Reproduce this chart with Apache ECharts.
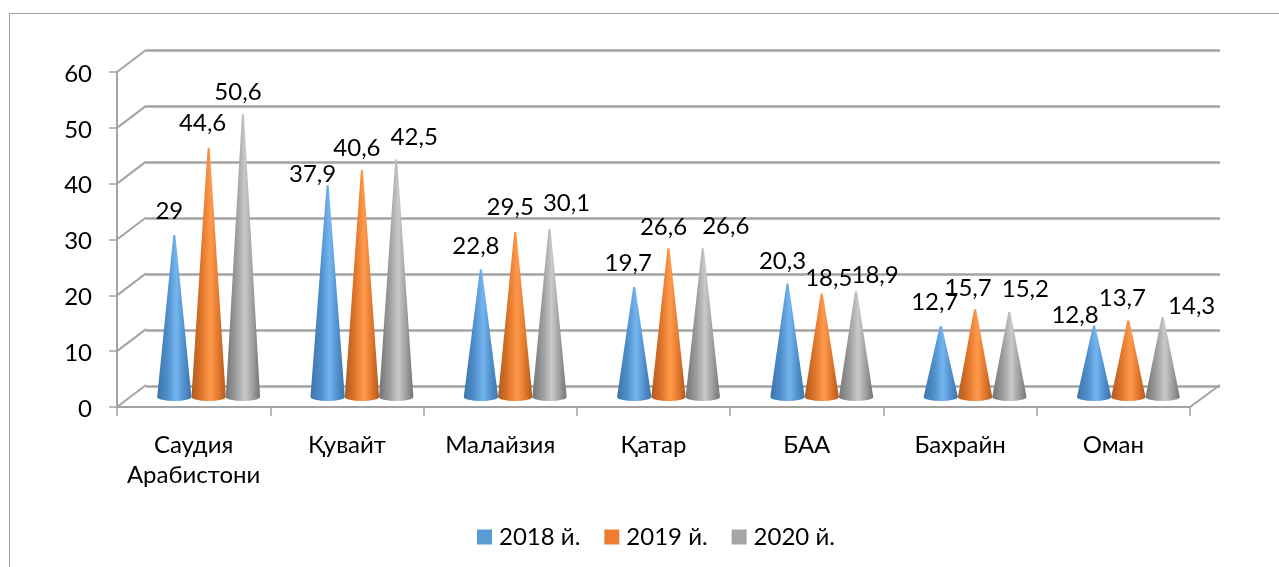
<!DOCTYPE html>
<html>
<head>
<meta charset="utf-8">
<script src="https://cdn.jsdelivr.net/npm/echarts@6/dist/echarts.min.js"></script>
<style>
  html, body { margin: 0; padding: 0; background: #fff; }
  #main { width: 1279px; height: 567px; }
</style>
</head>
<body>
<div id="main"></div>
<script>
// values
var categories = ['Саудия\nАрабистони', 'Қувайт', 'Малайзия', 'Қатар', 'БАА', 'Бахрайн', 'Оман'];
var values2018 = [29, 37.9, 22.8, 19.7, 20.3, 12.7, 12.8];
var values2019 = [44.6, 40.6, 29.5, 26.6, 18.5, 15.7, 13.7];
var values2020 = [50.6, 42.5, 30.1, 26.6, 18.9, 15.2, 14.3];
var yTicks = [0, 10, 20, 30, 40, 50, 60];

// the labels were dragged by hand in the original, so each one has its own nudge from the cone tip
var nudge2018 = [[-5, -24], [-15, -11], [-5, -23], [-6, -24], [-5, -22], [-6, -24], [-19, -10]];
var nudge2019 = [[-6, -24], [-5, -22], [-5, -25], [-5, -21], [7, -15], [-7, -21], [-6, -22]];
var nudge2020 = [[-5, -22], [18, -22], [17, -25], [23, -22], [19, -16], [16, -23], [29, -11]];

var FONT = 'Lato';
var FONT_SIZE = 24;
var LINE = '#a3a3a3';
var CONE_W = 34.3;
var DEPTH_X = 29, DEPTH_Y = 22;

function coneSeries(name, values, nudges, slot, color, shades) {
    return {
        name: name,
        type: 'custom',
        xAxisIndex: 0,
        yAxisIndex: 0,
        itemStyle: { color: color },
        z: 5,
        data: values.map(function (v, i) { return [i, v]; }),
        renderItem: function (params, api) {
            var i = api.value(0), v = api.value(1);
            var base = api.coord([i, 0]);
            var tip = api.coord([i, v]);
            var cx = base[0] + slot * CONE_W;
            var r = CONE_W / 2, ry = 4;
            var n = nudges[i];
            return {
                type: 'group',
                children: [{
                    type: 'path',
                    shape: {
                        pathData: 'M' + (cx - 1) + ' ' + tip[1] + 'L' + (cx + 1) + ' ' + tip[1] +
                            'L' + (cx + r) + ' ' + base[1] +
                            'A' + r + ' ' + ry + ' 0 0 1 ' + (cx - r) + ' ' + base[1] + 'Z',
                        x: cx - r, y: tip[1], width: CONE_W, height: base[1] + ry - tip[1]
                    },
                    style: {
                        fill: new echarts.graphic.LinearGradient(0, 0, 1, 0, [
                            { offset: 0, color: shades[0] },
                            { offset: 0.3, color: shades[1] },
                            { offset: 0.56, color: shades[2] },
                            { offset: 0.8, color: shades[1] },
                            { offset: 1, color: shades[0] }
                        ])
                    }
                }, {
                    type: 'text',
                    z2: 100,
                    style: {
                        x: cx + n[0],
                        y: tip[1] + n[1],
                        text: String(v).replace('.', ','),
                        font: FONT_SIZE + 'px ' + FONT,
                        fill: '#000',
                        align: 'center',
                        verticalAlign: 'middle'
                    }
                }]
            };
        }
    };
}

var chart = echarts.init(document.getElementById('main'));

chart.setOption({
    animation: false,
    backgroundColor: '#fff',
    graphic: [{
        type: 'rect',
        silent: true,
        shape: { x: 9.5, y: 13.5, width: 1300, height: 600 },
        style: { fill: 'none', stroke: '#a0a0a0', lineWidth: 1 }
    }],
    legend: {
        left: 472,
        top: 520,
        icon: 'rect',
        itemWidth: 15,
        itemHeight: 15,
        itemGap: 24,
        textStyle: { fontFamily: FONT, fontSize: FONT_SIZE, color: '#000', padding: [0, 0, 2, 2] },
        data: ['2018 й.', '2019 й.', '2020 й.']
    },
    grid: [
        // plane the cones stand on, halfway into the depth
        { left: 132, width: 1073, top: 61.6, height: 335.4 },
        // front plane with the visible axes
        { left: 117, width: 1073, top: 72, height: 335 },
        // back wall with the gridlines
        { left: 146, width: 1074, top: 50, height: 336 }
    ],
    xAxis: [
        { gridIndex: 0, type: 'category', data: categories, show: false },
        {
            gridIndex: 1,
            type: 'category',
            data: categories,
            axisLine: { show: true, lineStyle: { color: LINE, width: 2 } },
            axisTick: { show: true, length: 9, lineStyle: { color: LINE, width: 1.5 } },
            axisLabel: { fontFamily: FONT, fontSize: FONT_SIZE, color: '#000', margin: 23, lineHeight: 30, interval: 0 }
        },
        { gridIndex: 2, type: 'category', data: categories, show: false }
    ],
    yAxis: [
        { gridIndex: 0, type: 'value', min: 0, max: 60, interval: 10, show: false },
        {
            gridIndex: 1,
            type: 'value',
            min: 0,
            max: 60,
            interval: 10,
            axisLine: { show: true, lineStyle: { color: LINE, width: 2 } },
            axisTick: { show: true, length: 8, lineStyle: { color: LINE, width: 1.5 } },
            axisLabel: { fontFamily: FONT, fontSize: FONT_SIZE, color: '#000', margin: 25, verticalAlign: 'top', lineHeight: 4 },
            splitLine: { show: false }
        },
        {
            gridIndex: 2,
            type: 'value',
            min: 0,
            max: 60,
            interval: 10,
            axisLine: { show: false },
            axisTick: { show: false },
            axisLabel: { show: false },
            splitLine: { show: true, lineStyle: { color: LINE, width: 2.5 } }
        }
    ],
    series: [
        {
            // slanted lines joining the front axis to the back wall
            type: 'custom',
            silent: true,
            xAxisIndex: 1,
            yAxisIndex: 1,
            z: 1,
            data: yTicks.map(function (t) { return [0, t]; }),
            renderItem: function (params, api) {
                var t = api.value(1);
                var y = api.coord([0, t])[1];
                var cs = params.coordSys;
                var style = { stroke: LINE, lineWidth: 2, fill: 'none' };
                var kids = [{
                    type: 'line',
                    shape: { x1: cs.x, y1: y, x2: cs.x + DEPTH_X, y2: y - DEPTH_Y },
                    style: style
                }];
                if (t === 0) {
                    kids.push({
                        type: 'line',
                        shape: { x1: cs.x + cs.width, y1: y, x2: cs.x + cs.width + DEPTH_X + 1, y2: y - DEPTH_Y },
                        style: style
                    });
                }
                return { type: 'group', children: kids };
            }
        },
        coneSeries('2018 й.', values2018, nudge2018, -1, '#5B9BD5', ['#3d74a8', '#4f8ecb', '#74b5f0']),
        coneSeries('2019 й.', values2019, nudge2019, 0, '#ED7D31', ['#ad5a20', '#e0752a', '#ff9a4c']),
        coneSeries('2020 й.', values2020, nudge2020, 1, '#A5A5A5', ['#747474', '#9c9c9c', '#c9c9c9'])
    ]
});
</script>
</body>
</html>
